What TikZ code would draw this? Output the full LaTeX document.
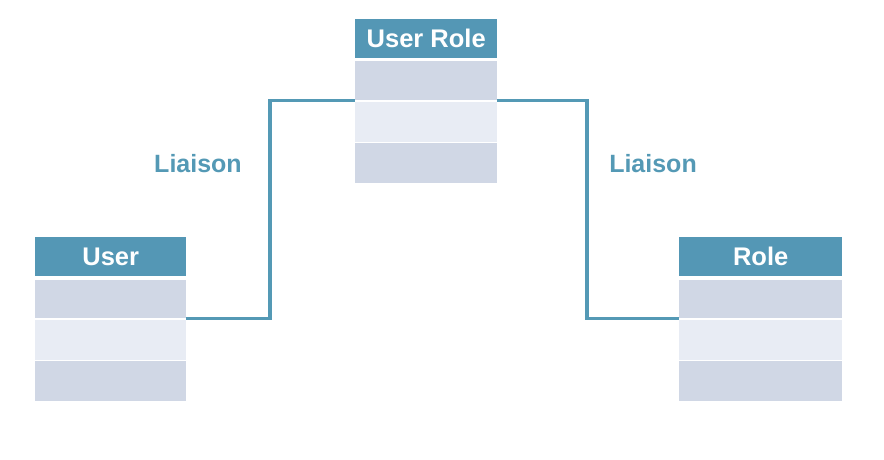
\documentclass[tikz,border=0pt]{standalone}
\usepackage{fontspec}
\setmainfont{Liberation Sans}
\definecolor{hdr}{RGB}{84,151,181}
\definecolor{rowdark}{RGB}{208,215,229}
\definecolor{rowlight}{RGB}{232,236,244}
\definecolor{lnk}{RGB}{84,153,181}
\begin{document}
\begin{tikzpicture}[x=1pt,y=-1pt,
  hdrbox/.style={fill=hdr,anchor=north west,inner sep=0pt,text=white,font=\fontsize{25.5}{30}\selectfont\bfseries},
  darkrow/.style={fill=rowdark,anchor=north west,inner sep=0pt},
  lightrow/.style={fill=rowlight,anchor=north west,inner sep=0pt},
  link/.style={draw=lnk,line width=3.3pt},
  lbl/.style={text=lnk,font=\fontsize{25}{30}\selectfont\bfseries,inner sep=0pt}]
\useasboundingbox (0,0) rectangle (884,459);
% User Role table
\node[hdrbox,minimum width=142pt,minimum height=39pt] (urh) at (355,19) {User Role};
\node[darkrow,minimum width=142pt,minimum height=39pt] (ur1) at (355,61) {};
\node[lightrow,minimum width=142pt,minimum height=40pt] (ur2) at (355,102) {};
\node[darkrow,minimum width=142pt,minimum height=40pt] (ur3) at (355,143) {};
% User table
\node[hdrbox,minimum width=151pt,minimum height=39pt] (uh) at (35,237) {User};
\node[darkrow,minimum width=151pt,minimum height=38pt] (u1) at (35,280) {};
\node[lightrow,minimum width=151pt,minimum height=40pt] (u2) at (35,320) {};
\node[darkrow,minimum width=151pt,minimum height=40pt] (u3) at (35,361) {};
% Role table
\node[hdrbox,minimum width=163pt,minimum height=39pt] (rh) at (679,237) {Role};
\node[darkrow,minimum width=163pt,minimum height=38pt] (r1) at (679,280) {};
\node[lightrow,minimum width=163pt,minimum height=40pt] (r2) at (679,320) {};
\node[darkrow,minimum width=163pt,minimum height=40pt] (r3) at (679,361) {};
% connectors
\coordinate (lk) at (270,0);
\coordinate (rk) at (587,0);
\draw[link] (u1.south east) -- (u1.south east -| lk) -- (ur1.south west -| lk) -- (ur1.south west);
\draw[link] (ur1.south east) -- (ur1.south east -| rk) -- (r1.south west -| rk) -- (r1.south west);
% labels
\node[lbl] (l1) at (198,164) {Liaison};
\node[lbl] (l2) at (653,164) {Liaison};
\end{tikzpicture}
\end{document}
